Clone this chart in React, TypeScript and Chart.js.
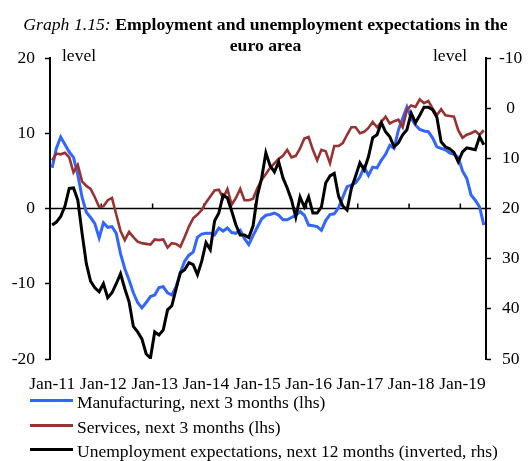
import React, { useEffect, useRef } from "react";
import { Chart, registerables } from "chart.js";

Chart.register(...registerables);

const MONTH_NAMES = ["Jan", "Feb", "Mar", "Apr", "May", "Jun", "Jul", "Aug", "Sep", "Oct", "Nov", "Dec"];
const YEARS = ["11", "12", "13", "14", "15", "16", "17", "18", "19"];
const LAST_MONTH_2019 = 6; // Jan-19 .. Jun-19

const categories: string[] = [];
YEARS.forEach((yy, yi) => {
  const n = yi === YEARS.length - 1 ? LAST_MONTH_2019 : 12;
  for (let m = 0; m < n; m++) categories.push(MONTH_NAMES[m] + "-" + yy);
});

const manufacturing = [
  5.4, 8, 9.5, 8.5, 7.5, 6.8, 4.5, 1.5, -0.5, -1.2, -2, -3.9,
  -1.9, -2.5, -2.4, -3.3, -6, -8, -9.5, -11.2, -12.5, -13.2, -12.5, -11.7,
  -11.5, -10.5, -10.4, -11.2, -11.5, -10.4, -8.5, -7, -6.2, -5.8, -3.8, -3.4,
  -3.3, -3.3, -3.5, -2.6, -3.0, -2.6, -3.2, -3.3, -2.9, -4, -4.8, -3.6,
  -2.5, -1.4, -0.9, -0.8, -0.6, -0.9, -1.5, -1.5, -1.2, -0.9, -0.4, -0.9,
  -2.2, -2.3, -2.4, -2.9, -1.6, -0.8, -0.7, 0.1, 1.5, 2.9, 3.1, 3.4,
  4.2, 5.5, 4.4, 5.5, 5.4, 6.4, 7.2, 8.4, 8.0, 10.4, 12, 13.5,
  12, 11.1, 10.5, 10.3, 10.2, 9.4, 8.2, 8.0, 7.8, 7.4, 7.2, 6.8,
  5, 4, 1.8, 1.1, 0.2, -2.2,
];

const services = [
  6.4, 7.3, 7.2, 7.4, 6.8, 4.8, 5.8, 3.6, 3.0, 2.6, 1.5, 0.2,
  0.3, 1.1, 1.4, -0.8, -3, -4.2, -3.1, -3.8, -4.4, -4.6, -4.7, -4.8,
  -4.1, -4.2, -4.1, -5.2, -4.6, -4.7, -5.1, -3.8, -2.4, -1.3, -0.8, -0.2,
  0.8, 1.6, 2.4, 2.5, 1.4, 2.6, 0.5, 1.4, 2.6, 1.1, 1.1, 1.3,
  2.7, 3.8, 4.6, 5.4, 6.0, 6.6, 7.0, 7.8, 6.8, 7.0, 8.0, 9.3,
  9.5, 7.8, 6.4, 7.8, 7.6, 6.0, 8.3, 8.3, 8.7, 9.8, 10.8, 10.8,
  10.0, 10.2, 10.7, 11.5, 10.8, 11.5, 12.2, 11.3, 11.6, 11.8, 10.8, 13.1,
  13.7, 13.5, 14.5, 14.0, 14.3, 13.3, 12.4, 13.2, 12.4, 12.3, 12.2, 10.4,
  9.4, 9.8, 10.0, 10.3, 9.8, 10.4,
];

const unemployment = [
  23.3, 22.7, 21.6, 19.5, 16, 15.9, 18.3, 24.9, 31, 34.5, 35.8, 36.6,
  35, 37.8, 36.8, 35, 33, 36, 38.6, 43.5, 44.6, 46, 49, 49.8,
  44.6, 45.2, 44.2, 40.2, 39.4, 36, 32.8, 32.2, 30.8, 31.2, 33.2, 30.5,
  26.8, 28.2, 22.5, 20.9, 17.3, 17.9, 20.5, 23.3, 25.3, 25.3, 25.8, 23.5,
  17.5, 14, 8.9, 11.5, 12.7, 10.7, 13.9, 15.9, 18.3, 21.7, 17.7, 19.7,
  17.7, 20.9, 20.9, 19.7, 14.9, 13.5, 13, 17.5, 19.5, 20.3, 16, 13.5,
  10.9, 12.3, 9.7, 5.9, 5.3, 2.9, 4.7, 5.7, 7.7, 6.9, 5.3, 4.3,
  1, 2.9, 1.4, -0.2, -0.2, 0.3, 1.8, 6.7, 7.7, 8.1, 8.8, 10.7,
  8.7, 7.9, 8.1, 8.3, 5.7, 7.3,
];

const seriesNames = [
  "Manufacturing, next 3 months (lhs)",
  "Services, next 3 months (lhs)",
  "Unemployment expectations, next 12 months (inverted, rhs)",
];
const seriesColors = ["#3366ff", "#993333", "#000000"];

const FONT = "'Liberation Serif', 'Times New Roman', serif";
const FS = 17.5;

const zeroLinePlugin = {
  id: "zeroLine",
  beforeDatasetsDraw(chart: any) {
    const { ctx, chartArea, scales } = chart;
    const y = scales.y.getPixelForValue(0);
    const xs = scales.x;
    ctx.save();
    ctx.strokeStyle = "#000";
    ctx.lineWidth = 1.5;
    ctx.beginPath();
    ctx.moveTo(chartArea.left, y);
    ctx.lineTo(chartArea.right, y);
    for (let i = 12; i < categories.length; i += 12) {
      const px = (xs.getPixelForValue(i - 1) + xs.getPixelForValue(i)) / 2;
      ctx.moveTo(px, y);
      ctx.lineTo(px, y - 5);
    }
    ctx.stroke();
    ctx.restore();
  },
};

export default function App() {
  const ref = useRef<HTMLCanvasElement | null>(null);

  useEffect(() => {
    if (!ref.current) return;
    const chart = new Chart(ref.current, {
      type: "line",
      data: {
        labels: categories,
        datasets: [
          {
            label: seriesNames[0],
            data: manufacturing,
            borderColor: seriesColors[0],
            borderWidth: 3,
            pointRadius: 0,
            tension: 0,
            yAxisID: "y",
            order: 2,
          },
          {
            label: seriesNames[1],
            data: services,
            borderColor: seriesColors[1],
            borderWidth: 2.6,
            pointRadius: 0,
            tension: 0,
            yAxisID: "y",
            order: 1,
          },
          {
            label: seriesNames[2],
            data: unemployment,
            borderColor: seriesColors[2],
            borderWidth: 3,
            pointRadius: 0,
            tension: 0,
            yAxisID: "y2",
            order: 0,
          },
        ],
      },
      options: {
        responsive: false,
        animation: false,
        devicePixelRatio: 1,
        layout: { padding: { top: 58, left: 0, right: 0, bottom: 0 } },
        plugins: {
          legend: { display: false },
          title: { display: false },
          tooltip: { enabled: false },
        },
        scales: {
          x: {
            type: "category",
            offset: true,
            grid: { display: false, drawTicks: false },
            border: { display: false },
            ticks: {
              autoSkip: false,
              maxRotation: 0,
              minRotation: 0,
              padding: 15,
              color: "#000",
              font: { family: FONT, size: FS },
              callback: (_v: any, i: number) => (i % 12 === 0 ? categories[i] : ""),
            },
            afterFit: (s: any) => {
              s.height = 102;
            },
          },
          y: {
            position: "left",
            min: -20,
            max: 20,
            ticks: {
              stepSize: 10,
              padding: 10,
              color: "#000",
              font: { family: FONT, size: FS },
            },
            grid: {
              drawOnChartArea: false,
              drawTicks: true,
              tickLength: 5,
              tickColor: "#000",
              tickWidth: 1.5,
            },
            border: { display: true, color: "#000", width: 2 },
            afterFit: (s: any) => {
              s.width = 50;
            },
          },
          y2: {
            position: "right",
            reverse: true,
            min: -10,
            max: 50,
            ticks: {
              stepSize: 10,
              padding: 8,
              crossAlign: "center",
              color: "#000",
              font: { family: FONT, size: FS },
            },
            grid: {
              drawOnChartArea: false,
              drawTicks: true,
              tickLength: 5,
              tickColor: "#000",
              tickWidth: 1.5,
            },
            border: { display: true, color: "#000", width: 2 },
            afterFit: (s: any) => {
              s.width = 45;
            },
          },
        },
      },
      plugins: [zeroLinePlugin],
    } as any);
    return () => chart.destroy();
  }, []);

  const text: React.CSSProperties = {
    position: "absolute",
    fontFamily: FONT,
    fontSize: FS,
    color: "#000",
    whiteSpace: "nowrap",
    lineHeight: "20px",
  };

  return (
    <div style={{ position: "absolute", left: 0, top: 0, width: 531, height: 461, background: "#fff" }}>
      <canvas ref={ref} width={531} height={461} style={{ position: "absolute", left: 0, top: 0, width: 531, height: 461 }} />
      <div
        style={{
          position: "absolute",
          left: 0,
          top: 14,
          width: 531,
          textAlign: "center",
          fontFamily: FONT,
          fontSize: 17.7,
          lineHeight: "21px",
          color: "#000",
          whiteSpace: "nowrap",
        }}
      >
        <span style={{ fontStyle: "italic" }}>Graph 1.15: </span>
        <span style={{ fontWeight: "bold" }}>Employment and unemployment expectations in the</span>
        <br />
        <span style={{ fontWeight: "bold" }}>euro area</span>
      </div>
      <div style={{ ...text, left: 62, top: 45 }}>level</div>
      <div style={{ ...text, left: 433, top: 45 }}>level</div>
      {seriesNames.map((name, k) => (
        <div key={name}>
          <div
            style={{
              position: "absolute",
              left: 30,
              top: 399 + k * 24.5,
              width: 43,
              height: 3,
              background: seriesColors[k],
            }}
          />
          <div style={{ ...text, left: 77, top: 392 + k * 24.5 }}>{name}</div>
        </div>
      ))}
    </div>
  );
}
